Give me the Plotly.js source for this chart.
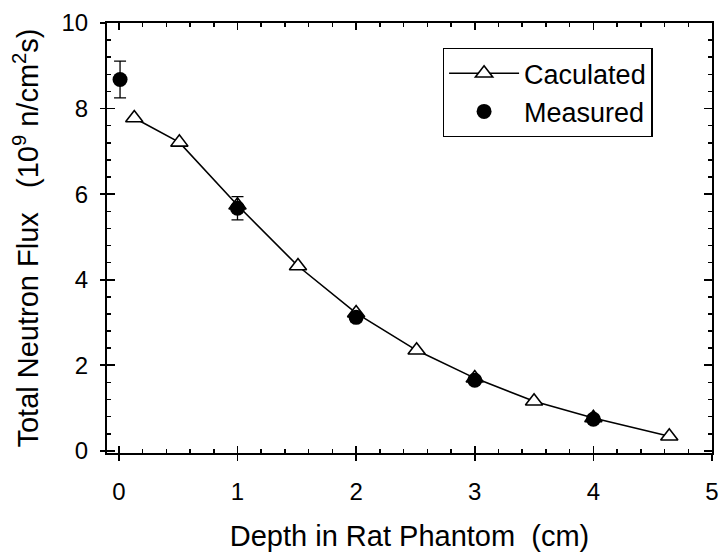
<!DOCTYPE html>
<html>
<head>
<meta charset="utf-8">
<script src="https://cdn.plot.ly/plotly-3.0.1.min.js"></script>
<style>html,body{margin:0;padding:0;background:#fff;}#chart{width:720px;height:556px;}</style>
</head>
<body>
<div id="chart"></div>
<script>
// Calculated total neutron flux vs depth
const calcDepth = [0.13, 0.51, 1.0, 1.51, 2.0, 2.51, 3.0, 3.5, 4.0, 4.64];
const calcFlux  = [7.78, 7.21, 5.74, 4.32, 3.22, 2.35, 1.70, 1.16, 0.77, 0.34];
// Measured total neutron flux vs depth
const measDepth = [0.01, 1.0, 2.0, 3.0, 4.0];
const measFlux  = [8.68, 5.67, 3.12, 1.65, 0.74];
const measErr   = [0.43, 0.27, 0.10, 0.08, 0.05];

const xTickVals = [0, 1, 2, 3, 4, 5];
const yTickVals = [0, 2, 4, 6, 8, 10];

const FONT = "Liberation Sans, Arial, Helvetica, sans-serif";
const xRange = [-0.1, 5];
const yRange = [-0.05, 10];

const traces = [
  {
    x: calcDepth, y: calcFlux, name: "Caculated", type: "scatter", mode: "lines+markers",
    line: {color: "#000", width: 1.6},
    marker: {symbol: "triangle-up", size: 15, color: "#fff", line: {color: "#000", width: 1.6}}
  },
  {
    x: measDepth, y: measFlux, name: "Measured", type: "scatter", mode: "markers",
    marker: {symbol: "circle", size: 15, color: "#000"},
    error_y: {type: "data", array: measErr, visible: true, color: "#000", thickness: 1.3, width: 6}
  },
  {x: [], y: [], xaxis: "x2", yaxis: "y2", showlegend: false, hoverinfo: "skip", type: "scatter"}
];

const layout = {
  width: 720, height: 556,
  margin: {l: 107, r: 8, t: 23, b: 103},
  paper_bgcolor: "#fff", plot_bgcolor: "#fff",
  font: {family: FONT, color: "#000", size: 24},
  showlegend: true,
  legend: {
    x: 0.555, y: 0.942, xanchor: "left", yanchor: "top",
    bgcolor: "#fff", bordercolor: "#000", borderwidth: 1.3,
    font: {family: FONT, size: 27, color: "#000"},
    itemwidth: 70,
    tracegroupgap: 0
  },
  xaxis: {
    range: xRange, tickmode: "linear", tick0: xTickVals[0], dtick: xTickVals[1] - xTickVals[0],
    showgrid: false, zeroline: false,
    showline: true, linecolor: "#000", linewidth: 2, mirror: "ticks",
    ticks: "inside", ticklen: 7, tickwidth: 1.6, tickcolor: "#000",
    minor: {dtick: 0.2, tick0: 0, ticks: "inside", ticklen: 4, tickwidth: 1.5, tickcolor: "#000", showgrid: false},
    tickfont: {size: 24, family: FONT}, ticklabelstandoff: 16,
    title: {text: "Depth in Rat Phantom\u00A0\u00A0(cm)", font: {size: 29, family: FONT}, standoff: 22}
  },
  yaxis: {
    range: yRange, tickmode: "linear", tick0: yTickVals[0], dtick: yTickVals[1] - yTickVals[0],
    showgrid: false, zeroline: false,
    showline: true, linecolor: "#000", linewidth: 2, mirror: "ticks",
    ticks: "inside", ticklen: 8, tickwidth: 1.6, tickcolor: "#000",
    minor: {dtick: 0.4, tick0: 0, ticks: "inside", ticklen: 4, tickwidth: 1.5, tickcolor: "#000", showgrid: false},
    tickfont: {size: 24, family: FONT}, ticklabelstandoff: 12,
    title: {text: "Total Neutron Flux\u00A0\u00A0\u00A0(10<sup>9</sup> n/cm<sup>2</sup>s)", font: {size: 29, family: FONT}, standoff: 14}
  },
  xaxis2: {
    range: xRange, overlaying: "x", anchor: "y", side: "bottom",
    tickvals: xTickVals, showticklabels: false, showgrid: false, zeroline: false, showline: false,
    ticks: "outside", ticklen: 7, tickwidth: 1.6, tickcolor: "#000"
  },
  yaxis2: {
    range: yRange, overlaying: "y", anchor: "x", side: "left",
    tickvals: yTickVals, showticklabels: false, showgrid: false, zeroline: false, showline: false,
    ticks: "outside", ticklen: 6, tickwidth: 1.6, tickcolor: "#000"
  }
};

Plotly.newPlot("chart", traces, layout, {displayModeBar: false, staticPlot: true});
</script>
</body>
</html>
